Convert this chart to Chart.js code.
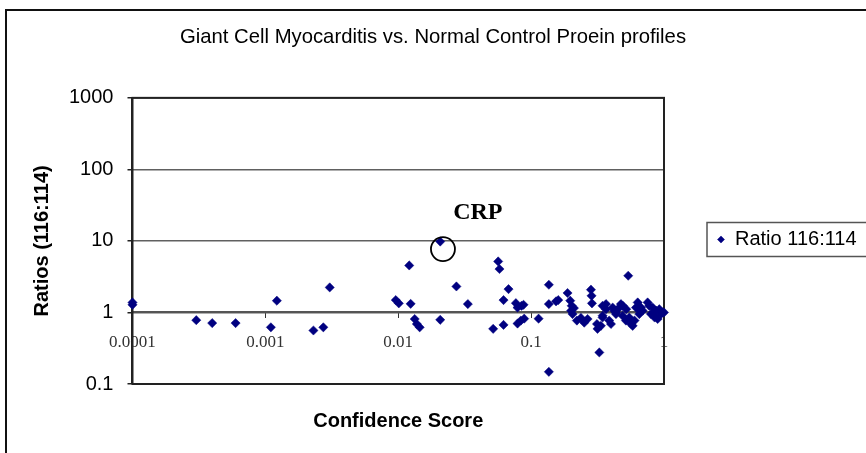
<!DOCTYPE html>
<html>
<head>
<meta charset="utf-8">
<script src="https://cdn.jsdelivr.net/npm/chart.js@4"></script>
<style>
  html, body { margin: 0; padding: 0; background: #fff; overflow: hidden; }
  #frame { position: absolute; left: 5px; top: 9px; width: 1000px; height: 1000px; border: 2px solid #111; }
  #wrap { position: absolute; left: 0; top: 0; width: 866px; height: 453px; }
</style>
</head>
<body>
<div id="frame"></div>
<div id="wrap"><canvas id="chart" width="866" height="453"></canvas></div>
<script>
// confidence score (x) and ratio 116:114 (y)
const confidence = [
  0.0001, 0.0001, 0.000302, 0.000398, 0.000597, 0.0011, 0.00122, 0.0023, 0.00273, 0.00305,
  0.00958, 0.0101, 0.0121, 0.0124, 0.0133, 0.0138, 0.0145, 0.0207, 0.0207, 0.0274,
  0.0334, 0.0518, 0.0565, 0.0578, 0.062, 0.062, 0.0676, 0.0768, 0.079, 0.0847,
  0.0877, 0.079, 0.0837, 0.0887, 0.1138, 0.136, 0.136, 0.136, 0.154, 0.16,
  0.188, 0.197, 0.202, 0.2, 0.205, 0.221, 0.237, 0.251, 0.266, 0.282,
  0.285, 0.287, 0.326, 0.316, 0.335, 0.313, 0.345, 0.366, 0.345, 0.387,
  0.399, 0.411, 0.423, 0.435, 0.461, 0.474, 0.488, 0.538, 0.517, 0.548,
  0.581, 0.634, 0.652, 0.615, 0.671, 0.691, 0.753, 0.774, 0.798, 0.822,
  0.846, 0.871, 0.896, 0.922, 0.949, 0.977, 1.0, 0.564, 0.6, 0.52,
  0.49, 0.85, 0.65, 0.21, 0.366, 0.435, 0.345
];
const ratios = [
  1.38, 1.28, 0.78, 0.71, 0.71, 0.62, 1.46, 0.56, 0.62, 2.24,
  1.49, 1.34, 4.54, 1.32, 0.81, 0.69, 0.62, 9.8, 0.79, 2.31,
  1.31, 0.59, 5.17, 4.05, 1.49, 0.67, 2.12, 1.35, 1.17, 1.24,
  1.28, 0.70, 0.77, 0.82, 0.82, 2.44, 1.31, 0.148, 1.43, 1.49,
  1.87, 1.46, 1.24, 1.06, 0.95, 0.77, 0.84, 0.72, 0.81, 2.08,
  1.71, 1.34, 0.276, 0.59, 0.65, 0.69, 1.24, 1.31, 0.90, 0.77,
  0.69, 1.17, 1.06, 0.95, 1.17, 1.31, 0.90, 3.26, 0.77, 0.85,
  0.65, 1.38, 0.95, 1.17, 1.17, 1.06, 1.38, 1.24, 0.95, 1.17,
  0.90, 1.06, 0.81, 1.11, 0.95, 1.0, 1.0, 0.69, 0.77, 1.11,
  1.24, 0.85, 1.11, 1.15, 1.11, 1.0, 0.85
];
const xTicks = [0.0001, 0.001, 0.01, 0.1, 1];
const yTicks = [0.1, 1, 10, 100, 1000];
// CRP callout: circle around the point, label above it (data units)
const crpMark = [0.0217, 7.7];
const crpLabel = [0.0397, 24.5];

const SANS = "'Liberation Sans', Arial, sans-serif";
const SERIF = "'Liberation Serif', 'Times New Roman', serif";

const points = confidence.map((c, i) => ({ x: c, y: ratios[i] }));

const plotFrame = {
  id: "plotFrame",
  beforeDatasetsDraw(chart) {
    const a = chart.chartArea, ctx = chart.ctx;
    ctx.save();
    ctx.strokeStyle = "#222";
    ctx.lineWidth = 2;
    ctx.strokeRect(a.left, a.top, a.right - a.left, a.bottom - a.top);
    ctx.restore();
  }
};

const legendFrame = {
  id: "legendFrame",
  afterDraw(chart) {
    const hb = chart.legend.legendHitBoxes[0];
    if (!hb) return;
    const ctx = chart.ctx;
    ctx.save();
    ctx.strokeStyle = "#555";
    ctx.lineWidth = 1.5;
    ctx.strokeRect(hb.left - 10, hb.top - 7, chart.width, hb.height + 14);
    ctx.restore();
  }
};

const crpNote = {
  id: "crpNote",
  afterDatasetsDraw(chart) {
    const { x, y } = chart.scales, ctx = chart.ctx;
    ctx.save();
    ctx.strokeStyle = "#000";
    ctx.lineWidth = 1.8;
    ctx.beginPath();
    ctx.arc(x.getPixelForValue(crpMark[0]), y.getPixelForValue(crpMark[1]), 12, 0, Math.PI * 2);
    ctx.stroke();
    ctx.fillStyle = "#000";
    ctx.font = "bold 24px " + SERIF;
    ctx.textAlign = "center";
    ctx.textBaseline = "middle";
    ctx.fillText("CRP", x.getPixelForValue(crpLabel[0]), y.getPixelForValue(crpLabel[1]));
    ctx.restore();
  }
};

new Chart(document.getElementById("chart"), {
  type: "scatter",
  data: {
    datasets: [{
      label: "Ratio 116:114",
      data: points,
      backgroundColor: "#000080",
      borderColor: "#000080",
      borderWidth: 0.5,
      pointStyle: "rectRot",
      pointRadius: 4.6,
      pointHoverRadius: 4.6,
      clip: false
    }]
  },
  options: {
    responsive: false,
    devicePixelRatio: 1,
    animation: false,
    layout: { padding: 0 },
    plugins: {
      title: {
        display: true,
        text: "Giant Cell Myocarditis vs. Normal Control Proein profiles",
        color: "#000",
        font: { family: SANS, size: 20.3, weight: "normal" },
        padding: { top: 25, bottom: 48.5 }
      },
      legend: {
        position: "right",
        maxWidth: 202,
        title: { display: true, text: "", font: { size: 10 }, padding: { top: 7, bottom: 7 } },
        labels: {
          usePointStyle: true,
          boxWidth: 8,
          boxHeight: 5,
          padding: 53,
          color: "#000",
          font: { family: SANS, size: 20 }
        }
      },
      tooltip: { enabled: false }
    },
    scales: {
      x: {
        type: "logarithmic",
        position: { y: 1 },
        min: 0.0001,
        max: 1,
        afterBuildTicks: s => { s.ticks = xTicks.map(v => ({ value: v })); },
        ticks: {
          autoSkip: false,
          maxRotation: 0,
          padding: 15,
          color: "#333",
          font: { family: SERIF, size: 17 },
          callback: v => String(v)
        },
        grid: { drawOnChartArea: false, tickLength: 5, tickColor: "#333" },
        border: { color: "#555", width: 2 }
      },
      xTitle: {
        type: "logarithmic",
        axis: "x",
        position: "bottom",
        min: 0.0001,
        max: 1,
        ticks: { display: false },
        grid: { display: false },
        border: { display: false },
        title: {
          display: true,
          text: "Confidence Score",
          color: "#000",
          font: { family: SANS, size: 20, weight: "bold" },
          padding: { top: 17, bottom: 20 }
        }
      },
      y: {
        type: "logarithmic",
        min: 0.1,
        max: 1000,
        afterBuildTicks: s => { s.ticks = yTicks.map(v => ({ value: v })); },
        ticks: {
          padding: 14,
          color: "#000",
          font: { family: SANS, size: 20 },
          callback: v => String(v)
        },
        grid: { color: "#606060", lineWidth: 1.5, tickLength: 5, tickColor: "#222" },
        border: { color: "#222", width: 2 },
        title: {
          display: true,
          text: "Ratios (116:114)",
          color: "#000",
          font: { family: SANS, size: 20, weight: "bold" },
          padding: { top: 30, bottom: 1 }
        }
      }
    }
  },
  plugins: [plotFrame, legendFrame, crpNote]
});
</script>
</body>
</html>
